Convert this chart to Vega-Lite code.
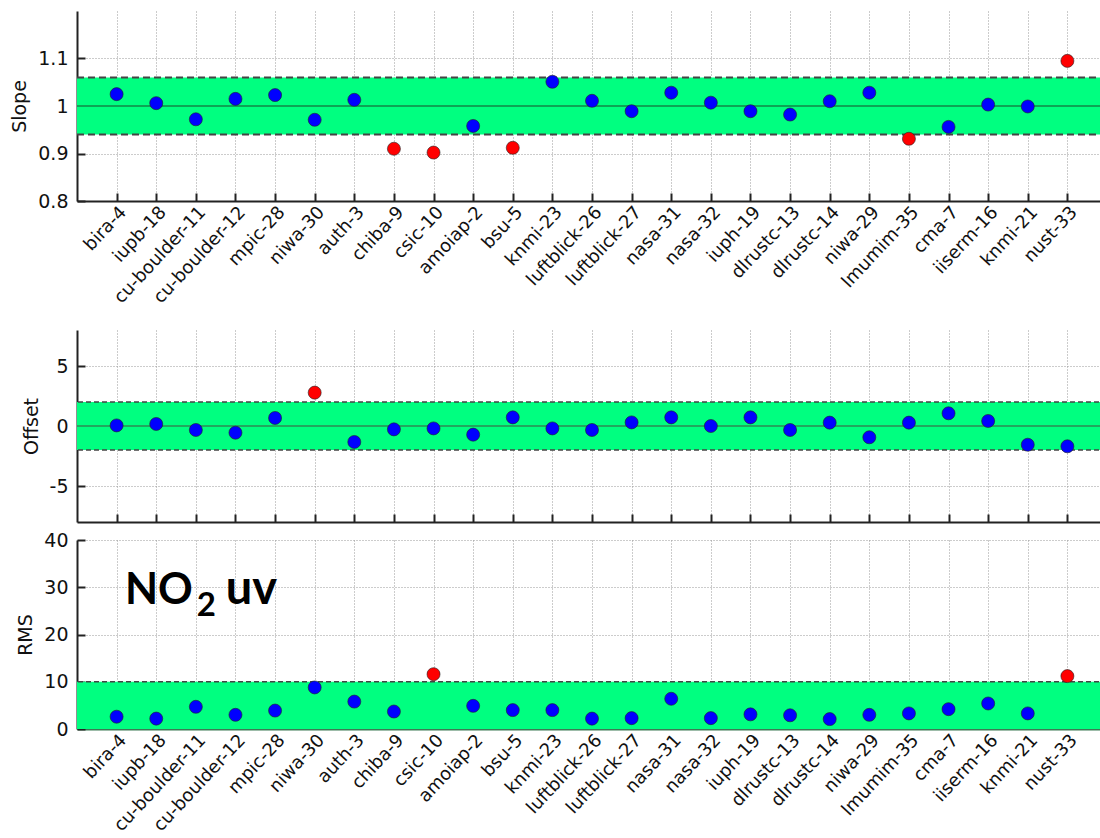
{
  "$schema": "https://vega.github.io/schema/vega-lite/v6.json",
  "padding": {"left": 10, "top": 11, "right": 0, "bottom": 0},
  "background": "white",
  "spacing": 8,
  "config": {
    "view": {"stroke": null},
    "font": "DejaVu Sans",
    "axis": {
      "labelFont": "DejaVu Sans",
      "titleFont": "DejaVu Sans",
      "labelFontSize": 19,
      "titleFontSize": 19,
      "titleFontWeight": "normal",
      "labelColor": "#111",
      "titleColor": "#111",
      "domainColor": "#222",
      "domainWidth": 2,
      "tickColor": "#222",
      "tickWidth": 2,
      "tickSize": -8,
      "grid": true,
      "gridColor": "#999",
      "gridDash": [1, 2],
      "gridWidth": 1
    }
  },
  "datasets": {
    "sites": [
      {"site": "bira-4", "slope": 1.025, "offset": 0.05, "rms": 2.6},
      {"site": "iupb-18", "slope": 1.006, "offset": 0.17, "rms": 2.2},
      {"site": "cu-boulder-11", "slope": 0.972, "offset": -0.33, "rms": 4.7},
      {"site": "cu-boulder-12", "slope": 1.015, "offset": -0.56, "rms": 3.0},
      {"site": "mpic-28", "slope": 1.023, "offset": 0.67, "rms": 3.9},
      {"site": "niwa-30", "slope": 0.971, "offset": 2.78, "rms": 8.8},
      {"site": "auth-3", "slope": 1.013, "offset": -1.33, "rms": 5.8},
      {"site": "chiba-9", "slope": 0.91, "offset": -0.28, "rms": 3.7},
      {"site": "csic-10", "slope": 0.902, "offset": -0.2, "rms": 11.6},
      {"site": "amoiap-2", "slope": 0.958, "offset": -0.72, "rms": 4.9},
      {"site": "bsu-5", "slope": 0.912, "offset": 0.72, "rms": 4.0},
      {"site": "knmi-23", "slope": 1.051, "offset": -0.2, "rms": 4.0},
      {"site": "luftblick-26", "slope": 1.011, "offset": -0.33, "rms": 2.2},
      {"site": "luftblick-27", "slope": 0.989, "offset": 0.3, "rms": 2.3},
      {"site": "nasa-31", "slope": 1.028, "offset": 0.72, "rms": 6.4},
      {"site": "nasa-32", "slope": 1.007, "offset": 0.0, "rms": 2.3},
      {"site": "iuph-19", "slope": 0.989, "offset": 0.72, "rms": 3.1},
      {"site": "dlrustc-13", "slope": 0.982, "offset": -0.33, "rms": 2.9},
      {"site": "dlrustc-14", "slope": 1.01, "offset": 0.28, "rms": 2.1},
      {"site": "niwa-29", "slope": 1.028, "offset": -0.94, "rms": 3.0},
      {"site": "lmumim-35", "slope": 0.931, "offset": 0.28, "rms": 3.3},
      {"site": "cma-7", "slope": 0.956, "offset": 1.06, "rms": 4.2},
      {"site": "iiserm-16", "slope": 1.003, "offset": 0.42, "rms": 5.4},
      {"site": "knmi-21", "slope": 0.999, "offset": -1.56, "rms": 3.3},
      {"site": "nust-33", "slope": 1.095, "offset": -1.69, "rms": 11.2}
    ],
    "slopeBand": [{"lo": 0.94, "hi": 1.06, "mid": 1}],
    "offsetBand": [{"lo": -2, "hi": 2, "mid": 0}],
    "rmsBand": [{"lo": 0, "hi": 10}],
    "note": [{"site": "cu-boulder-11", "rms": 26.4}]
  },
  "vconcat": [
    {
      "width": 1030,
      "height": 190,
      "layer": [
        {
          "data": {"name": "slopeBand"},
          "mark": {"type": "rect", "color": "#00ff80"},
          "encoding": {
            "y": {"field": "lo", "type": "quantitative", "scale": {"domain": [0.8, 1.2], "nice": false}},
            "y2": {"field": "hi"}
          }
        },
        {
          "data": {"name": "slopeBand"},
          "mark": {"type": "rule", "color": "#444", "strokeDash": [7, 4], "strokeWidth": 1.8},
          "encoding": {"y": {"field": "lo", "type": "quantitative"}}
        },
        {
          "data": {"name": "slopeBand"},
          "mark": {"type": "rule", "color": "#444", "strokeDash": [7, 4], "strokeWidth": 1.8},
          "encoding": {"y": {"field": "hi", "type": "quantitative"}}
        },
        {
          "data": {"name": "slopeBand"},
          "mark": {"type": "rule", "color": "#1a4a2a", "strokeWidth": 1.2},
          "encoding": {"y": {"field": "mid", "type": "quantitative"}}
        },
        {
          "data": {"name": "sites"},
          "mark": {"type": "point", "filled": true, "size": 170, "stroke": "#222", "strokeWidth": 0.6, "opacity": 1},
          "encoding": {
            "x": {
              "field": "site", "type": "nominal", "sort": null,
              "scale": {"type": "point", "padding": 1},
              "axis": {"title": " ", "titleFontSize": 15, "titlePadding": 0, "labelFontSize": 18, "labelAngle": -47, "labelAlign": "right", "labelBaseline": "top", "labelPadding": 10}
            },
            "y": {
              "field": "slope", "type": "quantitative",
              "scale": {"domain": [0.8, 1.2], "nice": false},
              "axis": {"title": "Slope", "values": [0.8, 0.9, 1, 1.1], "labelExpr": "'' + datum.value", "labelPadding": 17, "titlePadding": 8}
            },
            "color": {
              "condition": {"test": "datum.slope > 1.06 || datum.slope < 0.94", "value": "#ff0000"},
              "value": "#0000ff"
            }
          }
        }
      ]
    },
    {
      "width": 1030,
      "height": 192,
      "layer": [
        {
          "data": {"name": "offsetBand"},
          "mark": {"type": "rect", "color": "#00ff80"},
          "encoding": {
            "y": {"field": "lo", "type": "quantitative", "scale": {"domain": [-8, 8], "nice": false}},
            "y2": {"field": "hi"}
          }
        },
        {
          "data": {"name": "offsetBand"},
          "mark": {"type": "rule", "color": "#444", "strokeDash": [5, 3], "strokeWidth": 1.4},
          "encoding": {"y": {"field": "lo", "type": "quantitative"}}
        },
        {
          "data": {"name": "offsetBand"},
          "mark": {"type": "rule", "color": "#444", "strokeDash": [5, 3], "strokeWidth": 1.4},
          "encoding": {"y": {"field": "hi", "type": "quantitative"}}
        },
        {
          "data": {"name": "offsetBand"},
          "mark": {"type": "rule", "color": "#2e8a55", "strokeWidth": 1.5},
          "encoding": {"y": {"field": "mid", "type": "quantitative"}}
        },
        {
          "data": {"name": "sites"},
          "mark": {"type": "point", "filled": true, "size": 170, "stroke": "#222", "strokeWidth": 0.6, "opacity": 1},
          "encoding": {
            "x": {
              "field": "site", "type": "nominal", "sort": null,
              "scale": {"type": "point", "padding": 1},
              "axis": {"title": null, "labels": false}
            },
            "y": {
              "field": "offset", "type": "quantitative",
              "scale": {"domain": [-8, 8], "nice": false},
              "axis": {"title": "Offset", "values": [-5, 0, 5], "labelExpr": "'' + datum.value", "labelPadding": 17, "titlePadding": 8}
            },
            "color": {
              "condition": {"test": "abs(datum.offset) > 2", "value": "#ff0000"},
              "value": "#0000ff"
            }
          }
        }
      ]
    },
    {
      "width": 1030,
      "height": 189,
      "layer": [
        {
          "data": {"name": "rmsBand"},
          "mark": {"type": "rect", "color": "#00ff80"},
          "encoding": {
            "y": {"field": "lo", "type": "quantitative", "scale": {"domain": [0, 40], "nice": false}},
            "y2": {"field": "hi"}
          }
        },
        {
          "data": {"name": "rmsBand"},
          "mark": {"type": "rule", "color": "#444", "strokeDash": [5, 3], "strokeWidth": 1.4},
          "encoding": {"y": {"field": "hi", "type": "quantitative"}}
        },
        {
          "data": {"name": "sites"},
          "mark": {"type": "point", "filled": true, "size": 170, "stroke": "#222", "strokeWidth": 0.6, "opacity": 1},
          "encoding": {
            "x": {
              "field": "site", "type": "nominal", "sort": null,
              "scale": {"type": "point", "padding": 1},
              "axis": {"title": null, "labelFontSize": 18, "labelAngle": -47, "labelAlign": "right", "labelBaseline": "top", "labelPadding": 10, "domainColor": "#3d7a55"}
            },
            "y": {
              "field": "rms", "type": "quantitative",
              "scale": {"domain": [0, 40], "nice": false},
              "axis": {"title": "RMS", "values": [0, 10, 20, 30, 40], "labelPadding": 17, "titlePadding": 8}
            },
            "color": {
              "condition": {"test": "datum.rms > 10", "value": "#ff0000"},
              "value": "#0000ff"
            }
          }
        },
        {
          "data": {"name": "note"},
          "mark": {"type": "text", "font": "Lato", "fontWeight": "bold", "fontSize": 43, "align": "right", "baseline": "alphabetic", "dx": -3, "color": "black"},
          "encoding": {
            "x": {"field": "site", "type": "nominal", "sort": null},
            "y": {"field": "rms", "type": "quantitative"},
            "text": {"value": "NO"}
          }
        },
        {
          "data": {"name": "note"},
          "mark": {"type": "text", "font": "Lato", "fontWeight": "bold", "fontSize": 33, "align": "left", "baseline": "alphabetic", "dx": 1, "dy": 12, "color": "black"},
          "encoding": {
            "x": {"field": "site", "type": "nominal", "sort": null},
            "y": {"field": "rms", "type": "quantitative"},
            "text": {"value": "2"}
          }
        },
        {
          "data": {"name": "note"},
          "mark": {"type": "text", "font": "Lato", "fontWeight": "bold", "fontSize": 47, "align": "left", "baseline": "alphabetic", "dx": 30, "color": "black"},
          "encoding": {
            "x": {"field": "site", "type": "nominal", "sort": null},
            "y": {"field": "rms", "type": "quantitative"},
            "text": {"value": "uv"}
          }
        }
      ]
    }
  ]
}
